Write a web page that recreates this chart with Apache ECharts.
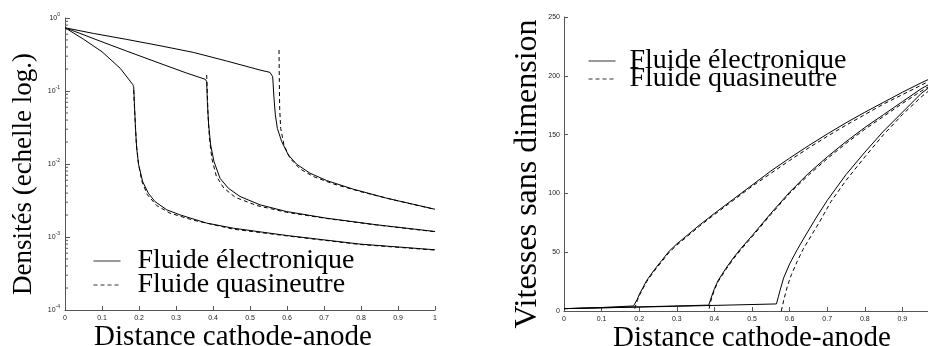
<!DOCTYPE html>
<html><head><meta charset="utf-8">
<script src="https://cdn.jsdelivr.net/npm/echarts@6/dist/echarts.min.js"></script>
<style>html,body{margin:0;padding:0;background:#fff}#c{width:928px;height:346px}</style>
</head><body><div id="c"></div>
<script>
// ---- tick / label data ----
const xTicks = [0, 0.1, 0.2, 0.3, 0.4, 0.5, 0.6, 0.7, 0.8, 0.9, 1];
const densMinorTickValues = [2e-4,3e-4,4e-4,5e-4,6e-4,7e-4,8e-4,9e-4,2e-3,3e-3,4e-3,5e-3,6e-3,7e-3,8e-3,9e-3,2e-2,3e-2,4e-2,5e-2,6e-2,7e-2,8e-2,9e-2,0.2,0.3,0.4,0.5,0.6,0.7,0.8,0.9];
const velTicks = [0, 50, 100, 150, 200, 250];
const legendNames = ['Fluide électronique', 'Fluide quasineutre'];

// ---- left chart: densities (log scale) ----
const densElec1 = [[0,0.735],[0.0495,0.514],[0.1,0.345],[0.1495,0.204],[0.1829,0.123],[0.1856,0.1146],[0.1874,0.0714],[0.1901,0.0343],[0.1937,0.0164],[0.1991,0.00973],[0.2099,0.00575],[0.2252,0.00398],[0.2432,0.00306],[0.2748,0.00236],[0.3108,0.00201],[0.3829,0.00155],[0.455,0.00132],[0.599,0.00105],[0.797,0.0008],[1,0.000668]];
const densQn1 = [[0.1856,0.103],[0.1865,0.08],[0.189,0.045],[0.1925,0.02],[0.198,0.0105],[0.2072,0.0059],[0.2225,0.0038],[0.2477,0.0027],[0.2838,0.00212],[0.3468,0.0017],[0.455,0.00128],[0.617,0.00101],[0.797,0.00079],[1,0.000662]];
const densElec2 = [[0,0.735],[0.0405,0.615],[0.0946,0.483],[0.1667,0.352],[0.2568,0.239],[0.3288,0.176],[0.3793,0.1445],[0.3829,0.134],[0.3847,0.0714],[0.3883,0.0343],[0.3937,0.0182],[0.4027,0.0108],[0.4189,0.00638],[0.4414,0.00466],[0.473,0.00359],[0.527,0.00276],[0.599,0.00223],[0.7072,0.00181],[0.8423,0.00147],[1,0.00119]];
const densQn2 = [[0.3829,0.166],[0.3847,0.098],[0.3865,0.047],[0.3905,0.022],[0.397,0.0118],[0.409,0.0068],[0.429,0.0047],[0.46,0.0035],[0.518,0.0027],[0.599,0.00218],[0.7072,0.00179],[0.8423,0.00146],[1,0.00118]];
const densElec3 = [[0,0.735],[0.0766,0.615],[0.1667,0.509],[0.2568,0.417],[0.3468,0.338],[0.4369,0.2575],[0.527,0.1937],[0.554,0.18],[0.5613,0.157],[0.5649,0.0794],[0.5685,0.047],[0.5739,0.0308],[0.5856,0.0203],[0.6036,0.0133],[0.6261,0.00993],[0.6622,0.00748],[0.7072,0.00593],[0.7793,0.00452],[0.8694,0.0034],[1,0.0024]];
const densQn3 = [[0.5784,0.364],[0.5793,0.134],[0.5802,0.058],[0.5829,0.0308],[0.5919,0.0182],[0.6081,0.012],[0.6351,0.00857],[0.6712,0.00673],[0.7252,0.00534],[0.7973,0.0042],[0.8874,0.00323],[1,0.00239]];

// ---- right chart: velocities ----
const velElec1 = [[0,2],[0.1,3],[0.185,4.3],[0.19,5],[0.195,10],[0.2,14],[0.21,20],[0.22,26],[0.24,35],[0.26,43],[0.28,51],[0.3,57],[0.33,65],[0.36,73],[0.4,83],[0.45,95],[0.5,107],[0.55,119],[0.6,130],[0.65,140.5],[0.7,150.5],[0.75,160],[0.8,169],[0.85,177.5],[0.9,186],[0.95,194],[1,201.5]];
const velQn1 = [[0.188,2],[0.195,9],[0.2,13],[0.21,19],[0.22,25],[0.24,34],[0.26,42],[0.28,50],[0.3,56],[0.33,64],[0.36,72],[0.4,82],[0.45,94],[0.5,106],[0.55,117],[0.6,128],[0.65,138.5],[0.7,148.5],[0.75,158],[0.8,167],[0.85,176],[0.9,184],[0.95,192],[1,200]];
const velElec2 = [[0,2],[0.2,3.5],[0.385,5],[0.39,10],[0.4,19],[0.41,26],[0.43,36],[0.45,45],[0.47,53],[0.5,64],[0.55,83],[0.6,101],[0.65,117],[0.7,131],[0.75,144],[0.8,156],[0.85,167],[0.9,178],[0.95,189],[1,198]];
const velQn2 = [[0.386,2],[0.39,8],[0.4,18],[0.41,25],[0.43,35],[0.45,44],[0.47,52],[0.5,63],[0.55,82],[0.6,100],[0.65,115.5],[0.7,129.5],[0.75,142.5],[0.8,154.5],[0.85,165.5],[0.9,176.5],[0.95,187],[1,196.5]];
const velElec3 = [[0,2],[0.3,4],[0.565,6],[0.57,12],[0.575,18],[0.584,28],[0.6,40],[0.62,52],[0.64,63],[0.67,79],[0.7,94],[0.75,116],[0.8,135],[0.85,153],[0.9,169],[0.95,185],[1,197]];
const velQn3 = [[0.578,0],[0.585,10],[0.595,22],[0.605,31],[0.62,42],[0.635,52],[0.65,60],[0.68,76],[0.71,93],[0.75,111],[0.8,131],[0.85,150],[0.9,167],[0.95,182],[1,195]];

const SERIF = 'Liberation Serif';
const SANS = 'Liberation Sans';
const AXIS_COLOR = '#555';
const LABEL_COLOR = '#222';

function fmtX(v) { return v === 0 ? '0' : String(Math.round(v * 10) / 10); }

function lineSeries(name, data, xi, yi, dashed) {
  return {
    type: 'line', name: name, data: data, xAxisIndex: xi, yAxisIndex: yi,
    symbol: 'none', showSymbol: false, silent: true,
    lineStyle: { color: '#000', width: 1, type: dashed ? [4, 3] : 'solid' },
    itemStyle: { color: '#000' },
    z: dashed ? 3 : 2
  };
}

function xAxisCfg(gridIndex, namePad) {
  return {
    type: 'value', gridIndex: gridIndex, min: 0, max: 1, interval: 0.1,
    splitLine: { show: false },
    axisLine: { onZero: false, lineStyle: { color: AXIS_COLOR, width: 1 } },
    axisTick: { inside: true, length: 4, lineStyle: { color: AXIS_COLOR } },
    axisLabel: { formatter: fmtX, fontFamily: SANS, fontSize: 7, color: LABEL_COLOR, margin: 5, showMaxLabel: true, showMinLabel: true },
    name: 'Distance cathode-anode', nameLocation: 'middle', nameGap: 13, nameMoveOverlap: false,
    nameTextStyle: { fontFamily: SERIF, fontSize: 29, color: '#000', padding: namePad }
  };
}

function legendCfg(left, top, gap, textPadLeft) {
  return {
    orient: 'vertical', data: legendNames, left: left, top: top, padding: 0,
    itemWidth: 27, itemHeight: 12, itemGap: gap, selectedMode: false,
    itemStyle: { opacity: 0 },
    lineStyle: { width: 1, color: '#333' },
    textStyle: { fontFamily: SERIF, fontSize: 28, color: '#000', padding: [0, 0, 0, textPadLeft] }
  };
}

const chart = echarts.init(document.getElementById('c'), null, { renderer: 'canvas' });
chart.setOption({
  animation: false,
  backgroundColor: '#fff',
  grid: [
    { left: 65, top: 18, width: 370, height: 292, containLabel: false, outerBoundsMode: 'none' },
    { left: 564, top: 17, width: 376, height: 294, containLabel: false, outerBoundsMode: 'none' }
  ],
  legend: [
    legendCfg(93, 247, -4, 12),
    legendCfg(588, 47, -10, 9)
  ],
  xAxis: [ xAxisCfg(0, [0, 34, 0, 0]), xAxisCfg(1, [0, 0, 0, 0]) ],
  yAxis: [
    {
      type: 'log', gridIndex: 0, min: 1e-4, max: 1, logBase: 10, position: 'left',
      splitLine: { show: false },
      axisLine: { show: true, onZero: false, lineStyle: { color: AXIS_COLOR, width: 1 } },
      axisTick: { inside: true, length: 5, lineStyle: { color: AXIS_COLOR } },
      axisLabel: {
        margin: 5, color: LABEL_COLOR,
        formatter: function (v) { return '{b|10}{s|' + Math.round(Math.log10(v)) + '}'; },
        rich: {
          b: { fontFamily: SANS, fontSize: 7, color: LABEL_COLOR },
          s: { fontFamily: SANS, fontSize: 5, color: LABEL_COLOR, padding: [0, 0, 6, 0] }
        }
      },
      name: 'Densités (echelle log.)', nameLocation: 'middle', nameRotate: 90, nameGap: 28, nameMoveOverlap: false,
      nameTextStyle: { fontFamily: SERIF, fontSize: 27, color: '#000', padding: [0, 20, 0, 0] }
    },
    {
      type: 'value', gridIndex: 1, min: 0, max: 250, interval: 50,
      splitLine: { show: false },
      axisLine: { show: true, onZero: false, lineStyle: { color: AXIS_COLOR, width: 1 } },
      axisTick: { inside: true, length: 4, lineStyle: { color: AXIS_COLOR } },
      axisLabel: { fontFamily: SANS, fontSize: 7, color: LABEL_COLOR, margin: 4,
        formatter: function (v) { return velTicks.indexOf(v) >= 0 ? String(v) : ''; } },
      name: 'Vitesses sans dimension', nameLocation: 'middle', nameRotate: 90, nameGap: 20, nameMoveOverlap: false,
      nameTextStyle: { fontFamily: SERIF, fontSize: 32, color: '#000', padding: [0, 20, 0, 0] }
    }
  ],
  series: [
    lineSeries(legendNames[0], densElec1, 0, 0, false),
    lineSeries(legendNames[0], densElec2, 0, 0, false),
    lineSeries(legendNames[0], densElec3, 0, 0, false),
    lineSeries(legendNames[1], densQn1, 0, 0, true),
    lineSeries(legendNames[1], densQn2, 0, 0, true),
    lineSeries(legendNames[1], densQn3, 0, 0, true),
    lineSeries(legendNames[0], velElec1, 1, 1, false),
    lineSeries(legendNames[0], velElec2, 1, 1, false),
    lineSeries(legendNames[0], velElec3, 1, 1, false),
    lineSeries(legendNames[1], velQn1, 1, 1, true),
    lineSeries(legendNames[1], velQn2, 1, 1, true),
    lineSeries(legendNames[1], velQn3, 1, 1, true),
    {
      // minor log ticks on the density axis, placed through the axis scale
      type: 'custom', xAxisIndex: 0, yAxisIndex: 0, silent: true, clip: false, z: 5,
      data: densMinorTickValues.map(function (v) { return [0, v]; }),
      renderItem: function (params, api) {
        const p = api.coord([0, api.value(1)]);
        return { type: 'line', shape: { x1: p[0], y1: p[1], x2: p[0] + 3, y2: p[1] },
                 style: { stroke: AXIS_COLOR, lineWidth: 1 } };
      }
    }
  ]
});
</script>
</body></html>
